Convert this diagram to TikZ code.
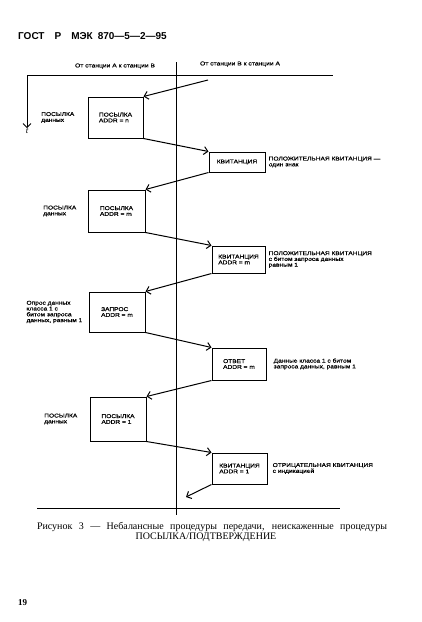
\documentclass[tikz,border=0pt]{standalone}
\usepackage{fontspec}
\setmainfont{Liberation Serif}
\setsansfont{Liberation Sans}
\newfontfamily\diagfont[FakeStretch=1.2, FakeBold=0.6]{Liberation Sans}
\usetikzlibrary{arrows.meta, positioning}

\begin{document}
\begin{tikzpicture}[x=1pt, y=-1pt,
    every node/.style={inner sep=0pt, font=\diagfont\fontsize{5.5}{5.8}\selectfont},
    box/.style={draw, line width=1pt, align=left, fill=white},
    note/.style={align=left},
    msg/.style={->, line width=1pt},
    >={Straight Barb[length=4pt, width=8pt]}
  ]
  \useasboundingbox (0,0) rectangle (422,622);

  % header and page number
  \node[anchor=west, font=\sffamily\bfseries\fontsize{10}{12}\selectfont] (gost) at (18,36)
    {ГОСТ\quad Р\quad МЭК\enspace 870—5—2—95};
  \node[anchor=west, font=\rmfamily\bfseries\fontsize{9}{11}\selectfont] (page) at (18,603) {19};

  % time axis and stations
  \coordinate (corner) at (27,75);
  \coordinate (topend) at (333,75);
  \coordinate (divtop) at (176,62);
  \coordinate (divbot) at (176,515);
  \coordinate (botleft) at (37,508);
  \coordinate (botright) at (340,508);
  \draw[line width=1pt] (corner) -- (topend);
  \draw[semithick] (divtop) -- (divbot);
  \draw[line width=1pt] (botleft) -- (botright);
  \node (t) at (27,131) {\rmfamily\itshape\fontsize{9}{9}\selectfont t};
  \draw[msg] (corner) -- (t.north);
  \node[font=\diagfont\fontsize{5.6}{6}\selectfont] (atob) at (115,66) {От станции A к станции B};
  \node[font=\diagfont\fontsize{5.6}{6}\selectfont] (btoa) at (240,64) {От станции B к станции A};

  % frames, station A
  \node[box, minimum width=55pt, minimum height=41pt] (snd1) at (115.5,117.5) {ПОСЫЛКА\\ADDR = n};
  \node[box, minimum width=57pt, minimum height=42pt] (snd2) at (116.5,211) {ПОСЫЛКА\\ADDR = m};
  \node[box, minimum width=56pt, minimum height=40pt] (req) at (117,312) {ЗАПРОС\\ADDR = m};
  \node[box, minimum width=56pt, minimum height=44pt] (snd3) at (118,419) {ПОСЫЛКА\\ADDR = 1};

  % frames, station B
  \node[box, align=center, minimum width=56pt, minimum height=20pt] (ack1) at (237,162) {КВИТАНЦИЯ};
  \node[box, minimum width=53pt, minimum height=27pt] (ack2) at (238.5,259.5) {КВИТАНЦИЯ\\ADDR = m};
  \node[box, minimum width=54pt, minimum height=32pt] (resp) at (239,364) {ОТВЕТ\\ADDR = m};
  \node[box, minimum width=55pt, minimum height=31pt] (nak) at (239.5,468.5) {КВИТАНЦИЯ\\ADDR = 1};

  % notes
  \node[note, left=13pt of snd1] (snd1lbl) {ПОСЫЛКА\\данных};
  \node[note, left=11pt of snd2] (snd2lbl) {ПОСЫЛКА\\данных};
  \node[note, left=6pt of req] (reqlbl) {Опрос данных\\класса 1 с\\битом запроса\\данных, равным 1};
  \node[note, left=12pt of snd3] (snd3lbl) {ПОСЫЛКА\\данных};
  \node[note, right=3pt of ack1] (ack1lbl) {ПОЛОЖИТЕЛЬНАЯ КВИТАНЦИЯ —\\один знак};
  \node[note, right=3pt of ack2] (ack2lbl) {ПОЛОЖИТЕЛЬНАЯ КВИТАНЦИЯ\\с битом запроса данных\\равным 1};
  \node[note, right=7pt of resp] (resplbl) {Данные класса 1 с битом\\запроса данных, равным 1};
  \node[note, right=5pt of nak] (naklbl) {ОТРИЦАТЕЛЬНАЯ КВИТАНЦИЯ\\с индикацией};

  % messages
  \coordinate (start) at (208,80);
  \coordinate (finish) at (186,497);
  \draw[msg] (start) -- (snd1.north east);
  \draw[msg] (snd1.south east) -- (ack1.north west);
  \draw[msg] (ack1.south west) -- (snd2.north east);
  \draw[msg] (snd2.south east) -- (ack2.north west);
  \draw[msg] (ack2.south west) -- (req.north east);
  \draw[msg] (req.south east) -- (resp.north west);
  \draw[msg] (resp.south west) -- (snd3.north east);
  \draw[msg] (snd3.south east) -- (nak.north west);
  \draw[msg] (nak.south west) -- (finish);

  % caption
  \node[font=\rmfamily\fontsize{10}{10}\selectfont] (cap1) at (212,527)
    {\makebox[350pt][s]{Рисунок 3 — Небалансные процедуры передачи, неискаженные процедуры}};
  \node[font=\rmfamily\fontsize{10}{10}\selectfont] (cap2) at (206,537) {ПОСЫЛКА/ПОДТВЕРЖДЕНИЕ};
\end{tikzpicture}
\end{document}
